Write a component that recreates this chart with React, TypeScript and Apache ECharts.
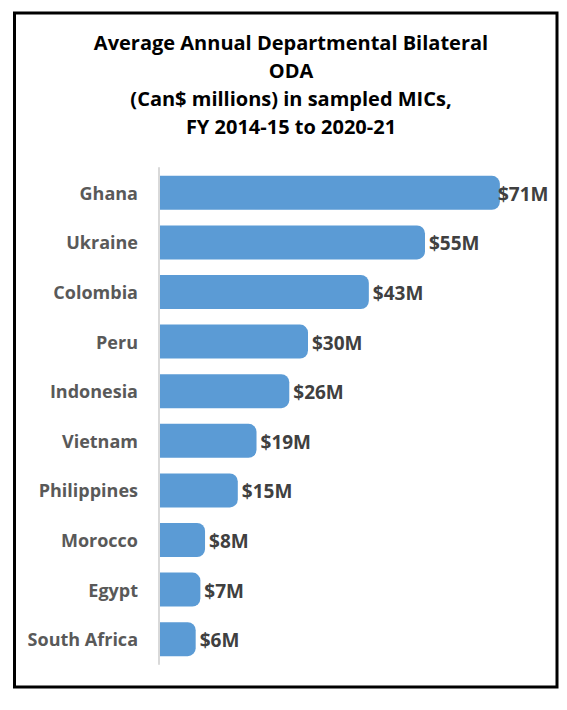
import React, { useEffect, useRef } from "react";
import * as echarts from "echarts";

const countries = ["Ghana", "Ukraine", "Colombia", "Peru", "Indonesia", "Vietnam", "Philippines", "Morocco", "Egypt", "South Africa"];
const values = [71, 55, 43, 30, 26, 19, 15, 8, 7, 6];
const titleLines = [
  "Average Annual Departmental Bilateral",
  "ODA",
  "(Can$ millions) in sampled MICs,",
  "FY 2014-15 to 2020-21",
];

const FONT = "Open Sans";

export default function App() {
  const ref = useRef<HTMLDivElement>(null);
  useEffect(() => {
    document.body.style.margin = "0";
    const chart = echarts.init(ref.current!, null, { renderer: "svg" });
    const option = {
      animation: false,
      backgroundColor: "#ffffff",
      title: {
        text: titleLines.join("\n"),
        left: 286,
        top: 23,
        textAlign: "center",
        textStyle: {
          fontFamily: FONT,
          fontWeight: "bold",
          fontSize: 20,
          lineHeight: 28,
          color: "#000000",
        },
      },
      graphic: [
        {
          type: "rect",
          shape: { x: 14.5, y: 13, width: 542.5, height: 674 },
          style: { fill: "none", stroke: "#000000", lineWidth: 3 },
          silent: true,
        },
      ],
      grid: { left: 159, top: 168, width: 374.4, height: 496 },
      xAxis: {
        type: "value",
        min: 0,
        max: 80,
        show: false,
      },
      yAxis: {
        type: "category",
        data: countries,
        inverse: true,
        axisLine: { show: true, lineStyle: { color: "#d9d9d9", width: 2 } },
        axisTick: { show: false },
        axisLabel: {
          margin: 21,
          fontFamily: FONT,
          fontWeight: "bold",
          fontSize: 18,
          color: "#595959",
        },
        splitLine: { show: false },
      },
      series: [
        {
          type: "custom",
          data: values.map((v, i) => [v, i]),
          encode: { x: 0, y: 1 },
          renderItem: (params: any, api: any) => {
            const v = api.value(0);
            const idx = api.value(1);
            const start = api.coord([0, idx]);
            const end = api.coord([v, idx]);
            const band = api.size([0, 1])[1];
            const h = band * 0.685;
            const x0 = start[0] + 1;
            const x1 = end[0] + 8.6;
            const labelX = Math.min(x1 + 4, 498);
            return {
              type: "group",
              children: [
                {
                  type: "rect",
                  shape: { x: x0, y: start[1] - h / 2, width: x1 - x0, height: h, r: [0, 8, 8, 0] },
                  style: { fill: "#5b9bd5" },
                },
                {
                  type: "text",
                  x: labelX,
                  y: start[1] + 1,
                  style: {
                    text: "$" + v + "M",
                    fontFamily: FONT,
                    fontWeight: "bold",
                    fontSize: 19,
                    fill: "#404040",
                    align: "left",
                    verticalAlign: "middle",
                  },
                },
              ],
            };
          },
        },
      ],
    };
    chart.setOption(option as any);
    return () => chart.dispose();
  }, []);
  return <div ref={ref} style={{ width: 567, height: 710 }} />;
}
